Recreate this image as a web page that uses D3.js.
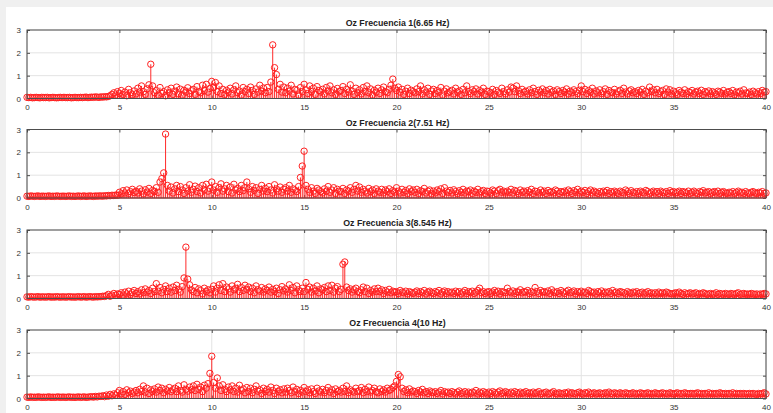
<!DOCTYPE html>
<html><head><meta charset="utf-8">
<script src="https://cdn.jsdelivr.net/npm/d3@7"></script>
<style>body{margin:0;background:#f0f0f0;}svg{display:block;}</style>
</head><body>
<svg id="c" width="773" height="413"></svg>
<script>
const titles = ["Oz Frecuencia 1(6.65 Hz)","Oz Frecuencia 2(7.51 Hz)","Oz Frecuencia 3(8.545 Hz)","Oz Frecuencia 4(10 Hz)"];
const xTicks = [0,5,10,15,20,25,30,35,40];
const yTicks = [0,1,2,3];
const freqStep = 0.1; // Hz between spectral bins

const s1 = [
.05,.04,.05,.03,.04,.05,.04,.03,.05,.04,
.04,.05,.03,.04,.05,.04,.03,.04,.05,.04,
.05,.04,.04,.05,.03,.04,.05,.04,.04,.05,
.04,.05,.06,.04,.05,.06,.05,.07,.06,.05,
.07,.06,.08,.07,.09,.12,.18,.25,.15,.30,
.22,.35,.18,.28,.12,.40,.25,.16,.33,.20,
.45,.28,.55,.30,.18,.42,.60,1.50,.55,.25,
.35,.15,.48,.22,.30,.12,.38,.26,.45,.18,
.32,.50,.20,.41,.15,.36,.28,.47,.22,.34,
.40,.18,.52,.30,.25,.58,.35,.62,.28,.44,
.75,.48,.70,.30,.55,.22,.40,.18,.36,.28,
.45,.20,.38,.55,.26,.33,.15,.48,.30,.40,
.22,.50,.35,.18,.42,.28,.58,.32,.46,.25,
.48,.30,.72,2.35,1.35,1.05,.40,.62,.28,.50,
.25,.45,.32,.58,.20,.40,.35,.15,.48,.30,
.62,.38,.22,.55,.30,.45,.18,.52,.35,.28,
.40,.20,.48,.33,.55,.25,.38,.18,.44,.30,
.35,.52,.22,.40,.28,.60,.32,.18,.45,.26,
.38,.20,.48,.30,.55,.25,.42,.15,.36,.28,
.45,.22,.38,.50,.30,.25,.40,.58,.85,.45,
.35,.50,.28,.40,.18,.32,.45,.22,.36,.30,
.25,.42,.30,.55,.20,.38,.28,.45,.18,.33,
.40,.22,.35,.28,.48,.15,.32,.42,.25,.30,
.36,.20,.45,.28,.33,.18,.40,.25,.55,.30,
.22,.38,.30,.42,.20,.35,.28,.45,.18,.32,
.30,.25,.40,.18,.35,.28,.22,.45,.30,.20,
.38,.28,.50,.45,.30,.55,.35,.22,.40,.28,
.32,.20,.38,.25,.45,.30,.18,.36,.28,.42,
.25,.35,.20,.40,.28,.33,.18,.38,.30,.22,
.35,.28,.42,.20,.32,.25,.38,.30,.22,.36,
.55,.30,.40,.22,.35,.28,.45,.20,.33,.25,
.38,.22,.30,.42,.18,.35,.28,.25,.40,.20,
.30,.36,.22,.45,.28,.20,.33,.38,.25,.30,
.22,.35,.28,.40,.18,.32,.25,.50,.30,.38,
.25,.40,.22,.30,.35,.18,.42,.28,.38,.20,
.32,.25,.18,.35,.28,.22,.38,.20,.30,.26,
.35,.20,.28,.32,.22,.36,.18,.30,.25,.33,
.20,.30,.25,.18,.32,.28,.22,.35,.20,.27,
.30,.22,.35,.18,.28,.25,.32,.20,.38,.24,
.22,.28,.18,.32,.25,.20,.30,.22,.35,.28,
.30];

const s2 = [
.08,.07,.09,.08,.07,.08,.09,.07,.08,.08,
.07,.08,.09,.07,.08,.07,.09,.08,.07,.08,
.08,.07,.08,.09,.07,.08,.07,.08,.09,.07,
.08,.09,.07,.08,.09,.08,.07,.09,.08,.09,
.09,.08,.10,.09,.11,.10,.12,.11,.13,.12,
.25,.18,.32,.22,.35,.20,.28,.38,.24,.30,
.22,.40,.30,.18,.36,.26,.42,.20,.33,.28,
.45,.25,.70,.85,1.10,2.80,.55,.30,.48,.22,
.40,.55,.28,.50,.35,.20,.45,.30,.58,.25,
.38,.52,.28,.45,.22,.55,.35,.60,.30,.42,
.70,.35,.50,.25,.45,.62,.30,.40,.55,.28,
.48,.22,.60,.35,.42,.28,.55,.32,.45,.70,
.40,.25,.50,.33,.45,.20,.38,.55,.30,.42,
.28,.50,.35,.22,.58,.40,.30,.48,.25,.38,
.45,.30,.55,.25,.40,.35,.28,.50,.90,1.40,
2.05,.55,.38,.25,.45,.30,.20,.42,.35,.28,
.22,.40,.30,.50,.25,.35,.45,.20,.38,.30,
.28,.42,.20,.35,.30,.45,.25,.38,.55,.30,
.48,.25,.38,.30,.22,.42,.28,.35,.20,.40,
.30,.25,.38,.22,.35,.28,.40,.20,.32,.26,
.45,.30,.22,.38,.25,.33,.20,.40,.28,.35,
.25,.38,.20,.32,.28,.42,.22,.30,.35,.18,
.30,.22,.35,.28,.40,.20,.45,.30,.25,.33,
.22,.36,.28,.20,.32,.25,.38,.22,.30,.28,
.35,.20,.30,.25,.38,.22,.28,.33,.20,.30,
.28,.22,.35,.30,.20,.32,.38,.25,.30,.22,
.30,.25,.38,.22,.33,.28,.20,.35,.25,.30,
.22,.32,.25,.38,.20,.30,.28,.22,.35,.25,
.30,.20,.33,.25,.28,.22,.35,.30,.20,.28,
.25,.30,.22,.35,.28,.20,.32,.25,.38,.22,
.30,.25,.33,.20,.28,.35,.22,.30,.25,.20,
.28,.22,.30,.25,.33,.20,.28,.22,.30,.25,
.20,.30,.25,.22,.35,.28,.20,.32,.25,.22,
.28,.20,.30,.25,.22,.33,.28,.20,.25,.30,
.22,.28,.20,.30,.25,.22,.28,.20,.32,.25,
.28,.22,.25,.30,.20,.28,.25,.22,.30,.20,
.25,.30,.22,.20,.28,.25,.32,.22,.25,.28,
.20,.25,.28,.22,.30,.20,.25,.28,.22,.20,
.25,.22,.28,.20,.25,.30,.22,.25,.20,.28,
.22,.20,.25,.28,.22,.20,.25,.22,.28,.20,
.22];

const s3 = [
.07,.06,.08,.07,.06,.07,.08,.06,.07,.07,
.06,.07,.08,.06,.07,.06,.08,.07,.06,.07,
.07,.06,.07,.08,.06,.07,.06,.07,.08,.06,
.07,.08,.06,.07,.08,.07,.06,.08,.07,.08,
.08,.10,.09,.12,.18,.10,.15,.22,.14,.20,
.18,.25,.15,.28,.20,.32,.18,.26,.35,.22,
.30,.20,.38,.25,.42,.28,.35,.22,.45,.30,
.65,.32,.48,.25,.40,.55,.30,.45,.28,.50,
.35,.58,.40,.28,.52,.90,2.25,.85,.60,.38,
.30,.48,.25,.42,.35,.20,.45,.30,.38,.25,
.40,.55,.28,.45,.60,.35,.65,.30,.50,.42,
.28,.55,.38,.45,.62,.30,.48,.35,.58,.40,
.50,.30,.45,.25,.55,.38,.32,.48,.28,.42,
.35,.50,.28,.40,.30,.45,.22,.38,.52,.33,
.42,.28,.60,.35,.48,.25,.55,.38,.30,.45,
.30,.70,.40,.50,.28,.45,.33,.55,.25,.42,
.38,.48,.30,.55,.35,.58,.28,.45,.52,.30,
.40,1.50,1.60,.50,.35,.42,.28,.38,.45,.30,
.25,.38,.50,.30,.45,.22,.35,.28,.42,.30,
.45,.30,.38,.22,.35,.28,.40,.25,.32,.28,
.30,.22,.35,.28,.25,.32,.20,.30,.26,.22,
.28,.33,.22,.30,.25,.35,.20,.28,.32,.25,
.22,.30,.26,.35,.20,.28,.33,.22,.30,.25,
.28,.22,.32,.25,.30,.20,.28,.35,.22,.30,
.25,.32,.22,.28,.35,.45,.25,.30,.22,.28,
.30,.22,.28,.35,.25,.32,.20,.30,.28,.25,
.45,.30,.25,.33,.22,.30,.28,.38,.25,.30,
.28,.35,.22,.30,.25,.48,.30,.22,.35,.28,
.30,.25,.33,.22,.38,.28,.25,.30,.22,.35,
.28,.22,.30,.36,.25,.28,.33,.20,.30,.25,
.32,.25,.28,.22,.35,.30,.25,.28,.20,.30,
.25,.33,.22,.28,.25,.30,.22,.35,.25,.28,
.22,.30,.28,.25,.20,.30,.25,.22,.28,.25,
.30,.22,.25,.28,.20,.25,.30,.22,.25,.20,
.25,.20,.28,.22,.25,.20,.28,.25,.22,.20,
.22,.25,.20,.28,.22,.18,.25,.20,.22,.25,
.20,.22,.25,.18,.22,.20,.25,.22,.18,.20,
.22,.18,.20,.25,.18,.22,.20,.18,.22,.20,
.18,.22,.20,.18,.22,.25,.18,.20,.22,.18,
.20,.18,.22,.20,.18,.20,.15,.20,.18,.22,
.20];

const s4 = [
.06,.05,.07,.05,.06,.05,.07,.06,.05,.06,
.05,.06,.07,.05,.06,.05,.06,.07,.05,.06,
.06,.05,.06,.07,.05,.06,.05,.06,.07,.05,
.06,.07,.05,.06,.07,.08,.06,.09,.07,.10,
.09,.12,.08,.15,.10,.18,.12,.20,.14,.25,
.35,.20,.30,.18,.38,.25,.32,.22,.28,.35,
.25,.40,.30,.55,.28,.45,.22,.38,.30,.42,
.28,.50,.35,.45,.25,.40,.33,.48,.30,.38,
.45,.30,.55,.35,.28,.60,.40,.32,.50,.38,
.55,.35,.62,.40,.50,.30,.58,.45,.65,1.10,
1.85,.70,.45,.90,.55,.35,.60,.40,.30,.50,
.38,.55,.30,.45,.28,.58,.35,.42,.25,.48,
.30,.45,.25,.40,.55,.32,.38,.22,.45,.30,
.40,.28,.50,.35,.22,.45,.30,.38,.25,.42,
.28,.45,.35,.25,.50,.30,.40,.22,.36,.28,
.48,.30,.38,.25,.42,.30,.22,.45,.33,.28,
.40,.25,.35,.48,.28,.38,.22,.42,.30,.35,
.28,.45,.30,.55,.25,.38,.32,.28,.45,.30,
.35,.48,.25,.40,.30,.50,.28,.35,.45,.30,
.25,.42,.30,.38,.28,.45,.35,.40,.48,.55,
.75,1.05,.95,.45,.30,.38,.25,.42,.28,.33,
.30,.22,.35,.28,.40,.25,.30,.22,.33,.28,
.25,.30,.22,.28,.35,.20,.30,.25,.28,.22,
.30,.25,.20,.28,.33,.22,.25,.30,.20,.28,
.22,.28,.25,.35,.20,.28,.22,.30,.25,.20,
.28,.22,.30,.25,.20,.28,.33,.22,.25,.30,
.25,.20,.28,.22,.30,.25,.20,.28,.22,.25,
.30,.22,.25,.20,.28,.22,.25,.30,.20,.22,
.25,.28,.20,.22,.25,.30,.22,.20,.25,.22,
.20,.25,.22,.28,.20,.25,.22,.20,.25,.28,
.22,.20,.25,.22,.28,.20,.22,.25,.20,.22,
.25,.20,.22,.25,.20,.28,.22,.20,.25,.22,
.20,.25,.22,.20,.25,.22,.20,.22,.25,.20,
.22,.20,.25,.22,.20,.22,.25,.20,.22,.20,
.25,.22,.20,.22,.25,.20,.22,.20,.25,.22,
.20,.22,.25,.20,.22,.20,.25,.22,.20,.22,
.22,.20,.22,.25,.20,.22,.20,.22,.20,.25,
.20,.22,.20,.22,.20,.25,.22,.20,.22,.20,
.22,.20,.25,.20,.22,.20,.22,.20,.22,.20,
.20,.22,.20,.22,.20,.18,.22,.20,.22,.25,
.20];

const series = [s1, s2, s3, s4];

const svg = d3.select("#c");
svg.append("rect").attr("x",6).attr("y",7).attr("width",767).attr("height",406).attr("fill","#ffffff");

const left = 27, right = 766;
const panelTops = [30, 129.5, 230, 330];
const panelH = 68.5;
const x = d3.scaleLinear().domain([0,40]).range([left,right]);
const font = "'Liberation Sans', Arial, sans-serif";
const axisCol = "#4d4d4d";

series.forEach((vals, p) => {
  const top = panelTops[p];
  const y = d3.scaleLinear().domain([0,3]).range([top+panelH, top]);
  const g = svg.append("g");

  // grid
  g.selectAll("line.gx").data(xTicks).join("line")
    .attr("x1",d=>x(d)).attr("x2",d=>x(d)).attr("y1",top).attr("y2",top+panelH)
    .attr("stroke","#e3e3e3").attr("stroke-width",1);
  g.selectAll("line.gy").data(yTicks).join("line")
    .attr("x1",left).attr("x2",right).attr("y1",d=>y(d)).attr("y2",d=>y(d))
    .attr("stroke","#e3e3e3").attr("stroke-width",1);

  const xb = d3.axisBottom(x).tickValues(xTicks).tickSize(-3).tickPadding(6).tickFormat(d3.format("d"));
  const xt = d3.axisTop(x).tickValues(xTicks).tickSize(-3).tickFormat("");
  const yl = d3.axisLeft(y).tickValues(yTicks).tickSize(-3).tickPadding(6).tickFormat(d3.format("d"));
  const yr = d3.axisRight(y).tickValues(yTicks).tickSize(-3).tickFormat("");
  const ax = [
    g.append("g").attr("transform",`translate(0,${top+panelH})`).call(xb),
    g.append("g").attr("transform",`translate(0,${top})`).call(xt),
    g.append("g").attr("transform",`translate(${left},0)`).call(yl),
    g.append("g").attr("transform",`translate(${right},0)`).call(yr)
  ];
  ax.forEach(a => {
    a.select(".domain").remove();
    a.selectAll(".tick line").attr("stroke",axisCol);
    a.selectAll(".tick text").attr("fill","#333").style("font-family",font).style("font-size","8px");
  });

  const pts = vals.map((v,i)=>({f:i*freqStep, v}));
  g.selectAll("line.stem").data(pts).join("line")
    .attr("x1",d=>x(d.f)).attr("x2",d=>x(d.f)).attr("y1",y(0)).attr("y2",d=>y(d.v))
    .attr("stroke","#ff2a2a").attr("stroke-width",1);
  g.append("line").attr("x1",left).attr("x2",right).attr("y1",y(0)).attr("y2",y(0))
    .attr("stroke","#ff1a1a").attr("stroke-width",1);
  g.selectAll("circle").data(pts).join("circle")
    .attr("cx",d=>x(d.f)).attr("cy",d=>y(d.v)).attr("r",3.2)
    .attr("fill","none").attr("stroke","#ff2020").attr("stroke-width",1);

  g.append("rect").attr("x",left).attr("y",top).attr("width",right-left).attr("height",panelH)
    .attr("fill","none").attr("stroke",axisCol).attr("stroke-width",1);

  g.append("text").attr("x",(left+right)/2+1).attr("y",top-4).attr("text-anchor","middle")
    .style("font-family",font).style("font-size","8.8px").style("font-weight","bold").attr("fill","#222")
    .text(titles[p]);
});
</script>
</body></html>
